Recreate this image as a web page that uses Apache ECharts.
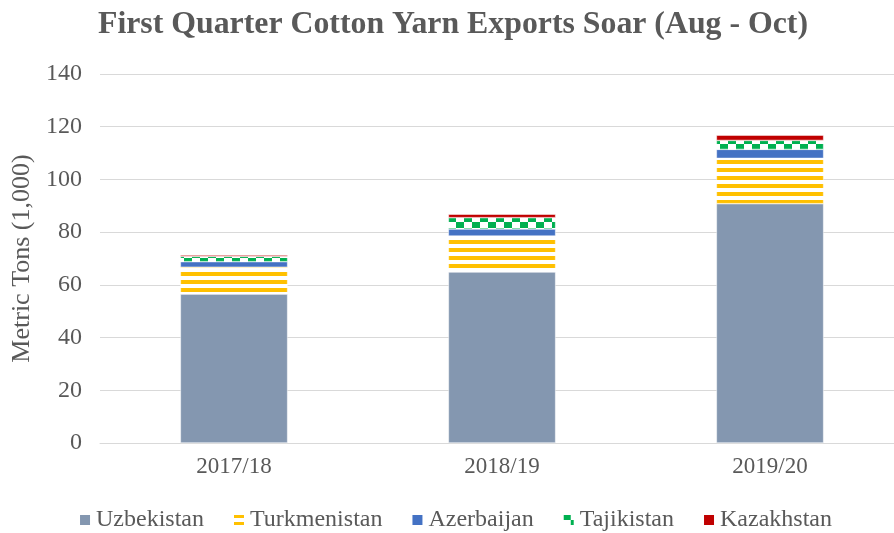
<!DOCTYPE html>
<html>
<head>
<meta charset="utf-8">
<script src="https://cdn.jsdelivr.net/npm/echarts@6/dist/echarts.min.js"></script>
<style>
  html, body { margin: 0; padding: 0; background: #fff; overflow: hidden; }
  #chart { width: 910px; height: 533px; }
</style>
</head>
<body>
<div id="chart"></div>
<script>
var seasons = ['2017/18', '2018/19', '2019/20'];
var uzbekistan = [56.5, 64.9, 90.8];
var turkmenistan = [10.2, 13.6, 17.2];
var azerbaijan = [2.1, 2.7, 3.4];
var tajikistan = [2.0, 4.3, 3.4];
var kazakhstan = [0.5, 1.3, 2.0];

// horizontal yellow stripes
function stripePattern() {
    var c = document.createElement('canvas');
    c.width = 8; c.height = 8;
    var ctx = c.getContext('2d');
    ctx.fillStyle = '#fff';
    ctx.fillRect(0, 0, 8, 8);
    ctx.fillStyle = '#FFC000';
    ctx.fillRect(0, 0, 8, 4);
    return { image: c, repeat: 'repeat' };
}

// green checkerboard
function checkPattern() {
    var c = document.createElement('canvas');
    c.width = 16; c.height = 12;
    var ctx = c.getContext('2d');
    ctx.fillStyle = '#fff';
    ctx.fillRect(0, 0, 16, 12);
    ctx.fillStyle = '#00B050';
    ctx.fillRect(0, 0, 8, 6);
    ctx.fillRect(8, 6, 8, 6);
    return { image: c, repeat: 'repeat' };
}

// the plot area runs a bit past the right edge of the picture, so the
// chart div is wider than the window and cut off
var chart = echarts.init(document.getElementById('chart'));
var font = '"Liberation Serif", "Times New Roman", serif';

function barSeries(name, data, color) {
    return {
        name: name,
        type: 'bar',
        stack: 'total',
        barWidth: '40%',
        data: data,
        itemStyle: { color: color, borderColor: '#fff', borderWidth: 0.5 }
    };
}

chart.setOption({
    animation: false,
    textStyle: { fontFamily: font },
    title: {
        text: 'First Quarter Cotton Yarn Exports Soar (Aug - Oct)',
        left: 448,
        textAlign: 'center',
        top: 4,
        textStyle: { fontFamily: font, fontSize: 31.8, fontWeight: 'bold', color: '#595959' }
    },
    grid: { left: 100, right: 6, top: 74, bottom: 90 },
    legend: {
        bottom: -4,
        left: 'center',
        itemWidth: 12,
        itemHeight: 12,
        itemGap: 28,
        icon: 'rect',
        textStyle: { fontFamily: font, fontSize: 24, color: '#595959' },
        data: ['Uzbekistan', 'Turkmenistan', 'Azerbaijan', 'Tajikistan', 'Kazakhstan']
    },
    xAxis: {
        type: 'category',
        data: seasons,
        axisTick: { show: false },
        axisLine: { lineStyle: { color: '#d9d9d9' } },
        axisLabel: { fontFamily: font, fontSize: 23, color: '#595959', margin: 12 }
    },
    yAxis: {
        type: 'value',
        min: 0,
        max: 140,
        interval: 20,
        name: 'Metric Tons (1,000)',
        nameLocation: 'middle',
        nameGap: 65,
        nameTextStyle: { fontFamily: font, fontSize: 26, color: '#595959' },
        axisLabel: { fontFamily: font, fontSize: 24, color: '#595959', margin: 18 },
        splitLine: { lineStyle: { color: '#d9d9d9', width: 1 } }
    },
    series: [
        barSeries('Uzbekistan', uzbekistan, '#8497B0'),
        barSeries('Turkmenistan', turkmenistan, stripePattern()),
        barSeries('Azerbaijan', azerbaijan, '#4472C4'),
        barSeries('Tajikistan', tajikistan, checkPattern()),
        barSeries('Kazakhstan', kazakhstan, '#C00000')
    ]
});
</script>
</body>
</html>
